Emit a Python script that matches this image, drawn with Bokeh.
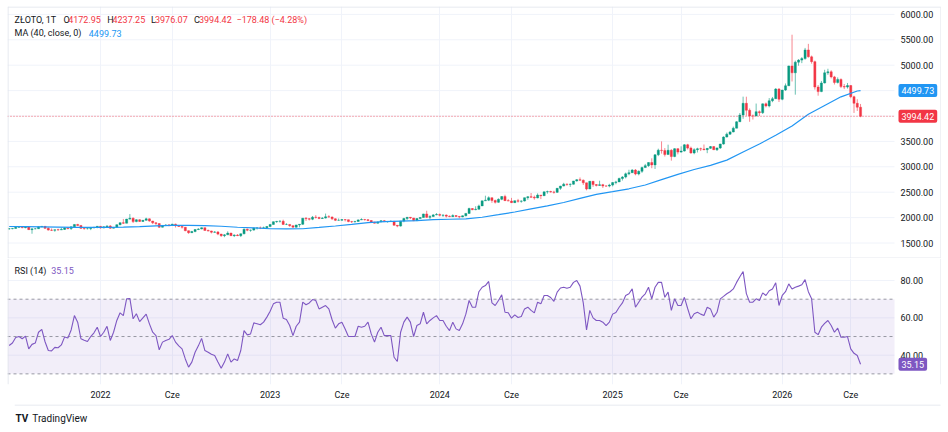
from bokeh.plotting import figure
from bokeh.models import Range1d, FixedTicker, Label, ColumnDataSource, LinearAxis
from bokeh.layouts import column
from bokeh.embed import file_html
from bokeh.resources import INLINE
from bokeh.core.properties import value

# ---------------- data (weekly bars) ----------------
first_open = 1778
closes = [
    1781, 1787, 1808, 1812, 1802, 1814, 1763, 1780, 1781, 1818,
    1828, 1788, 1754, 1750, 1761, 1757, 1768, 1793, 1783, 1818,
    1865, 1846, 1788, 1783, 1783, 1798, 1811, 1829, 1797, 1818,
    1835, 1791, 1808, 1860, 1899, 1889, 1970, 1988, 1921, 1958,
    1925, 1947, 1975, 1932, 1897, 1883, 1811, 1846, 1853, 1851,
    1871, 1840, 1827, 1811, 1742, 1703, 1727, 1766, 1775, 1802,
    1747, 1737, 1712, 1716, 1675, 1644, 1660, 1695, 1644, 1657,
    1645, 1681, 1771, 1751, 1754, 1797, 1797, 1793, 1798, 1824,
    1865, 1920, 1926, 1928, 1865, 1865, 1842, 1811, 1856, 1868,
    1989, 1978, 1969, 2007, 2004, 1983, 1990, 2017, 2011, 1977,
    1946, 1948, 1961, 1958, 1921, 1919, 1925, 1955, 1962, 1959,
    1943, 1914, 1889, 1915, 1940, 1919, 1924, 1925, 1849, 1833,
    1932, 1981, 2006, 1993, 1940, 1981, 2002, 2072, 2005, 2020,
    2053, 2063, 2045, 2049, 2029, 2018, 2040, 2024, 2013, 2036,
    2083, 2179, 2155, 2165, 2230, 2330, 2344, 2392, 2337, 2301,
    2360, 2415, 2334, 2327, 2294, 2333, 2322, 2326, 2392, 2411,
    2401, 2387, 2443, 2431, 2507, 2512, 2503, 2497, 2577, 2621,
    2658, 2653, 2657, 2721, 2747, 2736, 2685, 2563, 2715, 2650,
    2633, 2648, 2622, 2621, 2640, 2690, 2703, 2770, 2798, 2861,
    2883, 2936, 2858, 2910, 2984, 3023, 3084, 3037, 3237, 3327,
    3319, 3241, 3325, 3201, 3357, 3289, 3310, 3433, 3368, 3274,
    3337, 3355, 3350, 3337, 3363, 3398, 3336, 3371, 3448, 3586,
    3643, 3685, 3760, 3886, 4018, 4250, 4113, 4002, 4000, 4085,
    4065, 4239, 4198, 4300, 4340, 4530, 4330, 4510, 4595, 4985,
    4850, 5060, 5100, 5130, 5300, 5165, 5070, 4570, 4480, 4650,
    4850, 4870, 4770, 4660, 4720, 4580, 4570, 4600, 4380, 4250,
    4172.95, 3994.42,
]
highs = [
    1795, 1795, 1818, 1834, 1825, 1832, 1832, 1783, 1795, 1823,
    1834, 1832, 1809, 1787, 1765, 1782, 1800, 1814, 1810, 1823,
    1869, 1877, 1849, 1793, 1793, 1815, 1815, 1831, 1831, 1829,
    1848, 1853, 1814, 1865, 1903, 1974, 1974, 2070, 2004, 1966,
    1966, 1950, 1998, 1982, 1936, 1909, 1885, 1849, 1870, 1874,
    1877, 1880, 1847, 1830, 1814, 1745, 1739, 1767, 1792, 1807,
    1802, 1765, 1741, 1735, 1736, 1680, 1675, 1730, 1700, 1670,
    1675, 1684, 1786, 1786, 1764, 1804, 1810, 1825, 1823, 1833,
    1865, 1922, 1935, 1949, 1959, 1890, 1870, 1843, 1858, 1870,
    1990, 2009, 1990, 2032, 2048, 2015, 2009, 2079, 2048, 2022,
    1985, 1983, 1970, 1971, 1960, 1935, 1935, 1963, 1987, 1974,
    1971, 1948, 1916, 1922, 1949, 1953, 1933, 1947, 1936, 1851,
    1934, 1997, 2009, 2010, 1993, 1988, 2008, 2075, 2135, 2048,
    2070, 2088, 2078, 2063, 2062, 2041, 2065, 2047, 2031, 2041,
    2088, 2195, 2187, 2223, 2256, 2331, 2431, 2418, 2393, 2354,
    2378, 2422, 2450, 2364, 2388, 2335, 2368, 2339, 2392, 2424,
    2484, 2433, 2477, 2443, 2509, 2531, 2528, 2529, 2581, 2625,
    2685, 2671, 2672, 2722, 2758, 2790, 2750, 2685, 2721, 2721,
    2658, 2726, 2664, 2638, 2665, 2697, 2725, 2786, 2817, 2886,
    2942, 2955, 2956, 2930, 3004, 3057, 3087, 3167, 3245, 3357,
    3500, 3368, 3435, 3346, 3366, 3365, 3403, 3446, 3452, 3398,
    3365, 3375, 3377, 3439, 3363, 3409, 3404, 3379, 3453, 3600,
    3674, 3707, 3791, 3897, 4059, 4381, 4380, 4150, 4029, 4245,
    4110, 4245, 4265, 4353, 4375, 4550, 4550, 4515, 4640, 4990,
    5600, 5090, 5120, 5160, 5340, 5420, 5190, 5090, 4610, 4690,
    4910, 4930, 4900, 4790, 4760, 4740, 4630, 4650, 4610, 4400,
    4330, 4237.25,
]
lows = [
    1761, 1770, 1784, 1795, 1790, 1790, 1756, 1682, 1770, 1778,
    1812, 1782, 1745, 1737, 1721, 1746, 1757, 1760, 1770, 1758,
    1817, 1840, 1778, 1762, 1767, 1753, 1789, 1790, 1783, 1790,
    1812, 1780, 1788, 1805, 1849, 1878, 1889, 1961, 1895, 1910,
    1915, 1916, 1940, 1920, 1872, 1850, 1797, 1807, 1840, 1828,
    1836, 1805, 1816, 1784, 1732, 1681, 1698, 1711, 1754, 1771,
    1745, 1727, 1688, 1702, 1654, 1621, 1615, 1660, 1640, 1617,
    1636, 1617, 1672, 1732, 1721, 1743, 1765, 1774, 1785, 1795,
    1820, 1862, 1896, 1902, 1861, 1853, 1818, 1804, 1804, 1809,
    1858, 1934, 1944, 1950, 1981, 1969, 1975, 1983, 2001, 1952,
    1932, 1938, 1940, 1925, 1910, 1893, 1902, 1923, 1952, 1942,
    1930, 1912, 1885, 1884, 1913, 1915, 1901, 1913, 1846, 1810,
    1823, 1908, 1953, 1970, 1931, 1936, 1979, 2001, 1993, 1973,
    2016, 2046, 2024, 2013, 2001, 2010, 2016, 2014, 1984, 2009,
    2025, 2079, 2146, 2146, 2158, 2229, 2326, 2325, 2291, 2277,
    2292, 2343, 2326, 2323, 2287, 2287, 2295, 2293, 2318, 2351,
    2392, 2353, 2381, 2364, 2428, 2471, 2492, 2471, 2485, 2547,
    2616, 2625, 2604, 2651, 2708, 2725, 2643, 2537, 2563, 2605,
    2613, 2627, 2583, 2605, 2596, 2614, 2656, 2699, 2730, 2772,
    2834, 2882, 2833, 2832, 2880, 2982, 3000, 2972, 2957, 3210,
    3260, 3202, 3240, 3121, 3190, 3245, 3280, 3300, 3340, 3255,
    3247, 3282, 3310, 3325, 3268, 3353, 3330, 3311, 3351, 3436,
    3578, 3627, 3680, 3759, 3884, 3945, 4004, 3886, 3930, 3997,
    4000, 4040, 4170, 4170, 4271, 4340, 4275, 4310, 4495, 4590,
    4680, 4420, 4990, 5040, 5110, 5150, 5030, 4520, 4400, 4470,
    4640, 4810, 4740, 4620, 4640, 4550, 4530, 4540, 4350, 4060,
    4100, 3976.07,
]
rsi14 = [
    45.2, 46.5, 49.5, 50.0, 48.8, 50.2, 43.4, 45.8, 46.5, 52.3,
    53.8, 47.2, 42.5, 42.3, 44.2, 44.0, 45.5, 49.8, 49.2, 53.5,
    61.2, 57.7, 48.8, 48.0, 47.3, 50.0, 52.0, 55.0, 50.0, 52.3,
    55.5, 47.9, 52.3, 58.6, 62.7, 61.2, 70.2, 70.4, 59.5, 62.2,
    58.0, 60.0, 62.0, 56.8, 52.3, 50.5, 42.9, 47.0, 47.9, 48.5,
    50.5, 47.0, 45.0, 43.4, 38.0, 33.6, 36.3, 41.6, 45.0, 49.0,
    42.5, 41.6, 40.5, 39.8, 36.3, 33.0, 36.3, 40.7, 36.3, 38.0,
    37.1, 42.5, 53.2, 50.9, 51.4, 57.3, 56.8, 56.3, 57.7, 60.4,
    63.5, 67.5, 68.4, 68.4, 59.8, 59.1, 55.9, 50.5, 55.5, 57.7,
    68.4, 67.0, 68.0, 69.8, 69.3, 64.8, 65.7, 66.6, 64.8, 59.0,
    54.5, 56.8, 57.7, 54.0, 50.0, 50.0, 50.0, 55.5, 55.0, 55.5,
    57.7, 51.4, 47.0, 52.3, 55.0, 50.5, 50.5, 50.5, 38.9, 36.6,
    52.3, 57.7, 60.4, 57.7, 50.0, 55.9, 56.8, 63.0, 56.8, 58.6,
    60.0, 61.2, 58.6, 58.6, 55.5, 53.2, 57.7, 54.1, 53.2, 56.8,
    62.0, 69.3, 65.7, 65.7, 74.0, 76.4, 77.3, 79.5, 68.0, 66.6,
    69.3, 72.3, 63.0, 62.7, 59.8, 61.6, 60.2, 60.7, 64.8, 65.7,
    64.0, 62.7, 68.4, 67.5, 72.0, 72.0, 70.9, 68.8, 73.8, 76.0,
    76.4, 75.9, 76.4, 79.0, 80.0, 77.0, 68.0, 53.5, 64.0, 60.0,
    58.6, 58.6, 57.7, 55.9, 57.7, 62.0, 62.9, 65.7, 68.0, 72.0,
    72.9, 75.5, 65.7, 68.4, 71.1, 72.9, 76.4, 70.2, 76.4, 79.0,
    79.0, 71.0, 73.8, 64.0, 70.2, 66.6, 66.6, 71.0, 65.0, 59.5,
    62.2, 63.0, 62.0, 61.3, 65.7, 64.8, 60.4, 63.0, 70.2, 71.5,
    72.9, 74.0, 75.5, 79.0, 82.0, 84.8, 73.0, 68.4, 68.4, 70.2,
    69.3, 73.4, 72.0, 74.5, 75.5, 78.8, 66.6, 72.0, 74.0, 78.2,
    75.5, 76.4, 77.0, 77.7, 80.5, 74.0, 70.2, 52.3, 51.0, 55.0,
    57.0, 58.6, 55.9, 52.3, 54.5, 49.6, 49.6, 50.0, 43.4, 41.0,
    39.8, 35.15,
]
ma_bars = [0, 5, 10, 15, 20, 25, 30, 35, 40, 45, 50, 55, 60, 65, 70, 75, 80, 85,
           90, 95, 100, 105, 110, 115, 120, 125, 130, 135, 140, 145, 150, 155, 160,
           165, 170, 175, 180, 185, 190, 195, 200, 205, 210, 215, 220, 225, 230,
           235, 240, 245, 250, 255, 260, 261]
ma40 = [1825, 1822, 1818, 1813, 1809, 1806, 1808, 1814, 1823.2, 1838.5, 1845, 1847.8,
        1842.6, 1829.7, 1810, 1797.7, 1780.6, 1777.3, 1780.7, 1806.1, 1834.2, 1864.8,
        1900.9, 1921.4, 1931.1, 1941, 1960.7, 1967.2, 1973.6, 2007.4, 2057.2, 2110.3,
        2170, 2229.5, 2297.1, 2379.9, 2456.1, 2510.2, 2567.2, 2642.4, 2746.2, 2849.5,
        2946.2, 3028.4, 3131.8, 3291.3, 3447.5, 3619.9, 3801.6, 4035.1, 4207.6,
        4377.5, 4492.2, 4499.73]

time_ticks = [28, 50, 80, 102, 132, 154, 185, 206, 237, 258]
time_labels = ["2022", "Cze", "2023", "Cze", "2024", "Cze", "2025", "Cze", "2026", "Cze"]
price_ticks = [1500, 2000, 2500, 3000, 3500, 4000, 4500, 5000, 5500, 6000]
rsi_ticks = [40, 60, 80]
rsi_levels = [30, 50, 70]

symbol = "ZŁOTO, 1T"
last_o, last_h, last_l, last_c = 4172.95, 4237.25, 3976.07, 3994.42
chg, chg_pct = -178.48, -4.28
ma_last = 4499.73
rsi_last = 35.15

# ---------------- styling / layout ----------------
DARK = "#131722"
RED = "#f23645"
GREEN = "#089981"
BLUE = "#2196f3"
PURPLE = "#7e57c2"
GRIDC = "#f0f3fa"
BORDER = "#e0e3eb"
FONT = "Roboto"
FS = "9px"

LEFT = 7          # page x of the frames' left edge
FRAME_W = 934     # frames run to page x 941 (price scale lives inside them)
PANE_R = 894      # page x where the chart panes end and the price scale begins
TOP = 6
MAIN_H = 252
RSI_H = 126
XR = (-0.512, 285.82)
PR = (1194.9, 6155.5)
RR = (24.3, 91.8)


def bx(px):
    return XR[0] + (px - LEFT) * (XR[1] - XR[0]) / FRAME_W


def ym(py):
    return PR[1] - (py - TOP) * (PR[1] - PR[0]) / MAIN_H


def yr(py):
    return RR[1] - (py - TOP - MAIN_H) * (RR[1] - RR[0]) / RSI_H


N = len(closes)
opens = [first_open] + closes[:-1]
bars = list(range(N))
src = ColumnDataSource(dict(
    x=bars,
    top=[max(o, c) for o, c in zip(opens, closes)],
    bottom=[min(o, c) for o, c in zip(opens, closes)],
    high=[max(h, o, c) for h, o, c in zip(highs, opens, closes)],
    low=[min(l, o, c) for l, o, c in zip(lows, opens, closes)],
    color=[GREEN if c >= o else RED for o, c in zip(opens, closes)],
))

xr = Range1d(*XR)
X_END = bx(PANE_R)
X_LBL = bx(900)


def base_fig(height, yrange, bottom=0, top=0):
    p = figure(frame_width=FRAME_W, frame_height=height, x_range=xr, y_range=yrange,
               x_axis_location=None, y_axis_location=None, toolbar_location=None,
               output_backend="svg", title=None, min_border_left=LEFT,
               min_border_top=top, min_border_bottom=bottom, min_border_right=0,
               outline_line_color=None, background_fill_color="white",
               border_fill_color="white")
    p.xgrid.ticker = FixedTicker(ticks=time_ticks)
    p.xgrid.grid_line_color = GRIDC
    p.ygrid.visible = False
    return p


def hgrid(p, ticks):
    p.segment(x0=[XR[0]] * len(ticks), x1=[X_END] * len(ticks), y0=ticks, y1=ticks,
              line_color=GRIDC, line_width=1)


def vborders(p, yfun, ya, yb):
    p.segment(x0=[bx(7.5), bx(940.5)], x1=[bx(7.5), bx(940.5)], y0=[yfun(ya)] * 2,
              y1=[yfun(yb)] * 2, line_color=BORDER, line_width=1)


def scale_labels(p, ticks):
    p.text(x=[X_LBL] * len(ticks), y=ticks, text=[f"{t:.2f}" for t in ticks],
           text_font=value(FONT), text_font_size=value(FS), text_color=DARK,
           text_baseline="middle", text_align="left")


def lab(p, px, y, text, color, size=FS, bold=False):
    p.add_layout(Label(x=bx(px), y=y, text=text, text_color=color, text_font=FONT,
                       text_font_size=size, text_baseline="middle", text_align="left",
                       text_font_style="bold" if bold else "normal"))


def box(p, y, text, bg):
    p.add_layout(Label(x=bx(898), y=y, text=text, text_color="white", text_font=FONT,
                       text_font_size=FS, text_baseline="middle", text_align="left",
                       background_fill_color=bg, padding=3, border_radius=2))


# ---------------- main pane ----------------
p1 = base_fig(MAIN_H, Range1d(*PR), top=TOP)
hgrid(p1, price_ticks)
p1.segment(x0="x", y0="low", x1="x", y1="high", line_color="color", line_alpha=0.6,
           line_width=1, source=src)
p1.vbar(x="x", width=0.66, top="top", bottom="bottom", fill_color="color",
        line_color="color", line_width=0.4, source=src)
p1.line(ma_bars, ma40, line_color=BLUE, line_width=1.2)
p1.segment(x0=[XR[0]], x1=[X_END], y0=[last_c], y1=[last_c], line_color=RED,
           line_dash="1 2", line_width=1, line_alpha=0.8)
# chart border (top), pane separator, side borders
p1.segment(x0=[bx(7.3), bx(7.3)], x1=[bx(940), bx(940)], y0=[ym(6.5), ym(257.6)],
           y1=[ym(6.5), ym(257.6)], line_color=BORDER, line_width=1)
vborders(p1, ym, 6, 258)
scale_labels(p1, price_ticks)

y1 = ym(19)
lab(p1, 14, y1, symbol, DARK)
for px_letter, px_val, letter, val in [(63, 67.7, "O", last_o), (106.7, 112, "H", last_h),
                                        (150.5, 154.5, "L", last_l), (193.5, 198.5, "C", last_c)]:
    lab(p1, px_letter, y1, letter, DARK)
    lab(p1, px_val, y1, f"{val:.2f}", RED)
lab(p1, 236, y1, f"{chg:.2f} ({chg_pct:.2f}%)".replace("-", "\u2212"), RED)
y2 = ym(32.7)
lab(p1, 14, y2, "MA (40, close, 0)", DARK)
lab(p1, 88.3, y2, f"{ma_last:.2f}", BLUE)

box(p1, ma_last, f"{ma_last:.2f}", BLUE)
box(p1, last_c, f"{last_c:.2f}", RED)

# ---------------- RSI pane ----------------
p2 = base_fig(RSI_H, Range1d(*RR), bottom=20)
xa = LinearAxis(ticker=FixedTicker(ticks=time_ticks))
xa.major_label_overrides = {t: s for t, s in zip(time_ticks, time_labels)}
xa.axis_line_color = None
xa.major_tick_line_color = None
xa.minor_tick_line_color = None
xa.major_tick_out = 0
xa.major_tick_in = 0
xa.minor_tick_out = 0
xa.major_label_text_font = FONT
xa.major_label_text_font_size = FS
xa.major_label_text_color = DARK
xa.major_label_standoff = 5
p2.add_layout(xa, "below")

hgrid(p2, rsi_ticks)
p2.quad(left=[XR[0]], right=[X_END], bottom=[rsi_levels[0]], top=[rsi_levels[2]],
        fill_color=PURPLE, fill_alpha=0.1, line_color=None)
p2.segment(x0=[XR[0]] * 3, x1=[X_END] * 3, y0=rsi_levels, y1=rsi_levels,
           line_color="#787b86", line_dash="3 3", line_width=1, line_alpha=0.75)
p2.line(bars, rsi14, line_color=PURPLE, line_width=1.1)
vborders(p2, yr, 258, 384)
scale_labels(p2, rsi_ticks)

lab(p2, 14, yr(270), "RSI (14)", DARK)
lab(p2, 50.7, yr(270), f"{rsi_last:.2f}", PURPLE)
box(p2, rsi_last, f"{rsi_last:.2f}", PURPLE)

# ---------------- footer (logo line) ----------------
p3 = figure(width=LEFT + FRAME_W, height=26, x_range=Range1d(0, LEFT + FRAME_W),
            y_range=Range1d(26, 0), x_axis_location=None, y_axis_location=None,
            toolbar_location=None, output_backend="svg", title=None, min_border=0,
            outline_line_color=None, background_fill_color="white",
            border_fill_color="white")
p3.xgrid.visible = False
p3.ygrid.visible = False
p3.segment(x0=[7.3], x1=[940], y0=[0.5], y1=[0.5], line_color=BORDER, line_width=1)
p3.add_layout(Label(x=8, y=14, text="TV", text_color=DARK, text_font=FONT,
                    text_font_size="10px", text_font_style="bold", text_baseline="middle"))
p3.add_layout(Label(x=25, y=14, text="TradingView", text_color=DARK, text_font=FONT,
                    text_font_size="10px", text_baseline="middle"))

layout = column(p1, p2, p3, spacing=0)
open("out.html", "w").write(file_html(layout, INLINE))
